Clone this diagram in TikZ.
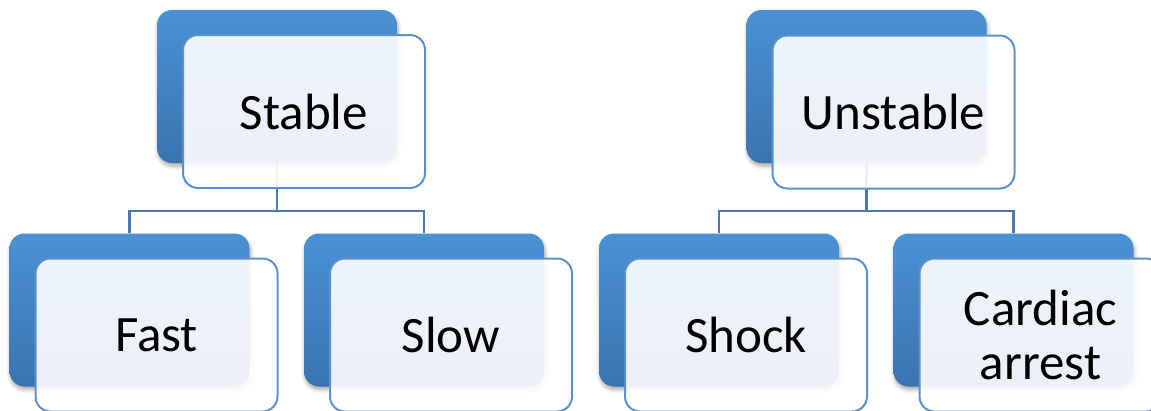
\documentclass[tikz,border=0pt]{standalone}
\usepackage{fontspec}
\setmainfont{Carlito}
\usetikzlibrary{shadows.blur}
\definecolor{bluetop}{HTML}{4A91D5}
\definecolor{bluebot}{HTML}{3A74AF}
\definecolor{edgeblue}{HTML}{5B90CA}
\definecolor{linkblue}{HTML}{4A78B0}
\tikzset{
  backbox/.style={rounded corners=15pt, minimum width=240pt, minimum height=153pt,
    top color=bluetop, bottom color=bluebot, draw=none,
    blur shadow={shadow xshift=1pt, shadow yshift=-3pt, shadow blur steps=6, shadow opacity=35, shadow blur radius=4pt}},
  frontbox/.style={rounded corners=15pt, minimum width=242pt, minimum height=153pt,
    fill=white, fill opacity=0.9, text opacity=1, draw=edgeblue, line width=2pt,
    font=\fontsize{51}{54}\selectfont, align=center, inner sep=0pt},
  link/.style={draw=linkblue, line width=2.2pt},
}
\begin{document}
\begin{tikzpicture}[x=1pt,y=-1pt]
\useasboundingbox (0,0) rectangle (1151,410);
\clip (0,0) rectangle (1151,410);
% junctions
\coordinate (sj) at (277,211);
\coordinate (uj) at (866.5,211);
% back boxes
\node[backbox] (sb) at (277,86.5) {};
\node[backbox] (ub) at (866.5,86.5) {};
\node[backbox] (fb) at (129.5,310) {};
\node[backbox] (lb) at (424,310) {};
\node[backbox] (hb) at (719,310) {};
\node[backbox] (cb) at (1013.5,310) {};
% connectors
\draw[link] (sb.south) -- (sj);
\draw[link] (sj) -| (fb.north);
\draw[link] (sj) -| (lb.north);
\draw[link] (ub.south) -- (uj);
\draw[link] (uj) -| (hb.north);
\draw[link] (uj) -| (cb.north);
% front boxes
\node[frontbox] (s) at (304,111.5) {Stable};
\node[frontbox] (u) at (893.5,112) {Unstable};
\node[frontbox] (f) at (156.5,335) {Fast};
\node[frontbox] (l) at (451,335) {Slow};
\node[frontbox] (h) at (746,335) {Shock};
\node[frontbox] (c) at (1040.5,335) {Cardiac\\arrest};
\end{tikzpicture}
\end{document}
